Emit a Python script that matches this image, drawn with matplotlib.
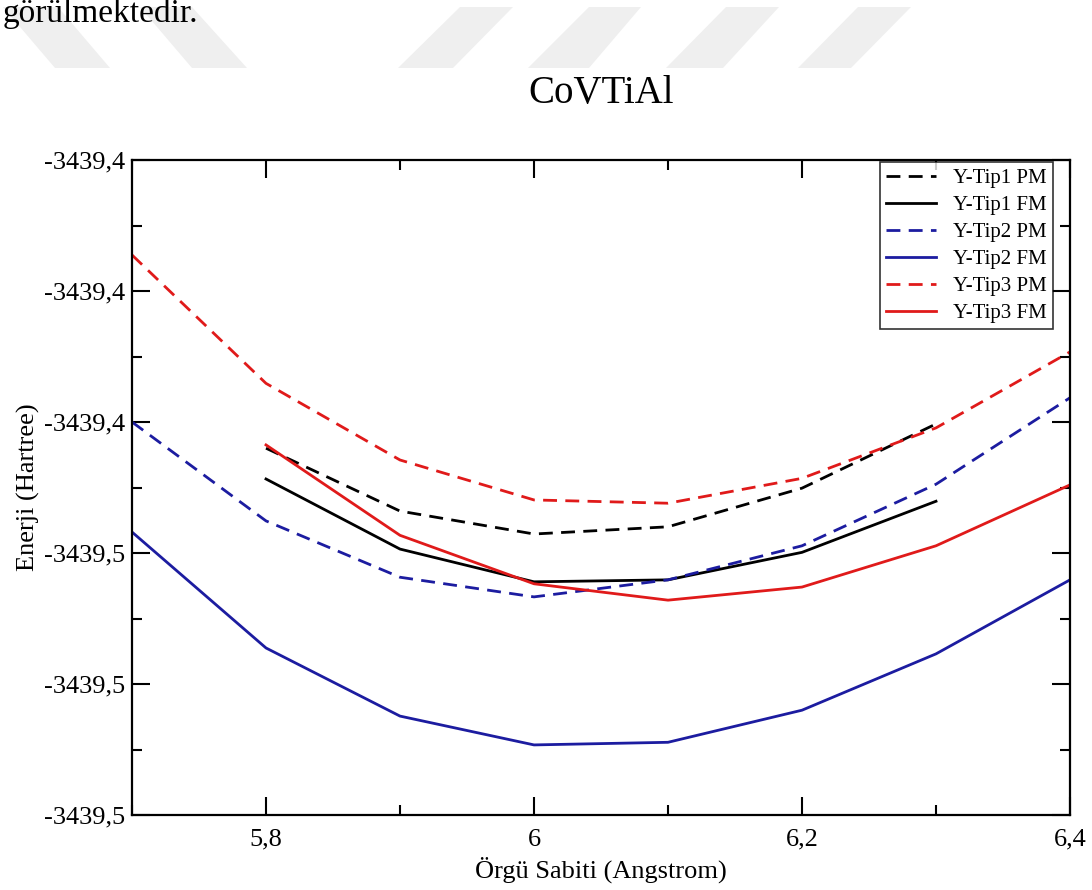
import matplotlib
matplotlib.use("Agg")
import matplotlib.pyplot as plt
from matplotlib.patches import Polygon
from matplotlib.ticker import MultipleLocator, FuncFormatter

plt.rcParams["font.family"] = ["Liberation Serif", "DejaVu Serif"]

# lattice constant (Angstrom)
x_full = [5.7, 5.8, 5.9, 6.0, 6.1, 6.2, 6.3, 6.4]
x_tip1 = [5.8, 5.9, 6.0, 6.1, 6.2, 6.3]
x_tip3_fm = [5.8, 5.9, 6.0, 6.1, 6.2, 6.3, 6.4]

# total energy (Hartree)
tip1_pm = [-3439.4440, -3439.4536, -3439.4571, -3439.4560, -3439.4501, -3439.4403]
tip1_fm = [-3439.4487, -3439.4594, -3439.4644, -3439.4641, -3439.4599, -3439.4521]
tip2_pm = [-3439.4400, -3439.4551, -3439.4637, -3439.4667, -3439.4641, -3439.4589,
           -3439.4495, -3439.4363]
tip2_fm = [-3439.4568, -3439.4745, -3439.4849, -3439.4893, -3439.4889, -3439.4840,
           -3439.4754, -3439.4641]
tip3_pm = [-3439.4145, -3439.4341, -3439.4458, -3439.4519, -3439.4524, -3439.4486,
           -3439.4409, -3439.4293]
tip3_fm = [-3439.4435, -3439.4573, -3439.4647, -3439.4672, -3439.4652, -3439.4589,
           -3439.4496]

W, H = 1092, 890
fig = plt.figure(figsize=(W / 100, H / 100), dpi=100)
fig.patch.set_facecolor("white")

# faint watermark bands of the scanned page (pixel coords: top x0, top x1, bottom x0, bottom x1)
bands = [(3, 58, 55, 110), (140, 192, 192, 247), (460, 513, 398, 453),
         (589, 641, 528, 589), (726, 779, 666, 723), (858, 911, 798, 851)]
for t0, t1, b0, b1 in bands:
    pts = [(t0 / W, 1 - 7 / H), (t1 / W, 1 - 7 / H), (b1 / W, 1 - 68 / H), (b0 / W, 1 - 68 / H)]
    fig.add_artist(Polygon(pts, closed=True, transform=fig.transFigure,
                           facecolor="#efefef", edgecolor="none", zorder=0))

fig.text(0.002, 1 - 22 / H, "görülmektedir.", fontsize=24, va="baseline", ha="left")

ax = fig.add_axes([132 / W, 1 - 815 / H, 938 / W, 655 / H])

black = "#000000"
blue = "#1c1ca0"
red = "#e01a1a"
lw = 2.0
dash = (5, 3)

ax.plot(x_tip1, tip1_pm, color=black, lw=lw, dashes=dash, label="Y-Tip1 PM")
ax.plot(x_tip1, tip1_fm, color=black, lw=lw, label="Y-Tip1 FM")
ax.plot(x_full, tip2_pm, color=blue, lw=lw, dashes=dash, label="Y-Tip2 PM")
ax.plot(x_full, tip2_fm, color=blue, lw=lw, label="Y-Tip2 FM")
ax.plot(x_full, tip3_pm, color=red, lw=lw, dashes=dash, label="Y-Tip3 PM")
ax.plot(x_tip3_fm, tip3_fm, color=red, lw=lw, label="Y-Tip3 FM")

ax.set_xlim(5.7, 6.4)
ax.set_ylim(-3439.50, -3439.40)

ax.xaxis.set_major_locator(MultipleLocator(0.2))
ax.xaxis.set_minor_locator(MultipleLocator(0.1))
ax.yaxis.set_major_locator(MultipleLocator(0.02))
ax.yaxis.set_minor_locator(MultipleLocator(0.01))
ax.xaxis.set_major_formatter(FuncFormatter(lambda v, p: f"{v:g}".replace(".", ",")))
ax.yaxis.set_major_formatter(FuncFormatter(lambda v, p: f"{v:.1f}".replace(".", ",")))

ax.tick_params(which="both", direction="in", top=True, right=True, width=1.5, labelsize=19)
ax.tick_params(which="major", length=13)
ax.tick_params(which="minor", length=7)
ax.tick_params(axis="x", pad=10)
ax.tick_params(axis="y", pad=5)
for s in ax.spines.values():
    s.set_linewidth(1.6)

ax.set_xlabel("Örgü Sabiti (Angstrom)", fontsize=19, labelpad=4)
ax.set_ylabel("Enerji (Hartree)", fontsize=19, labelpad=3)
fig.text(601 / W, 1 - 103 / H, "CoVTiAl", fontsize=28, ha="center", va="baseline")

leg = ax.legend(loc="upper right", bbox_to_anchor=(0.982, 0.997), borderaxespad=0,
                fontsize=15, frameon=True, fancybox=False, handlelength=2.4,
                handletextpad=0.8, labelspacing=0.36, borderpad=0.3)
leg.get_frame().set_edgecolor("black")
leg.get_frame().set_linewidth(1.2)

fig.savefig("out.png", dpi=100, facecolor="white")
